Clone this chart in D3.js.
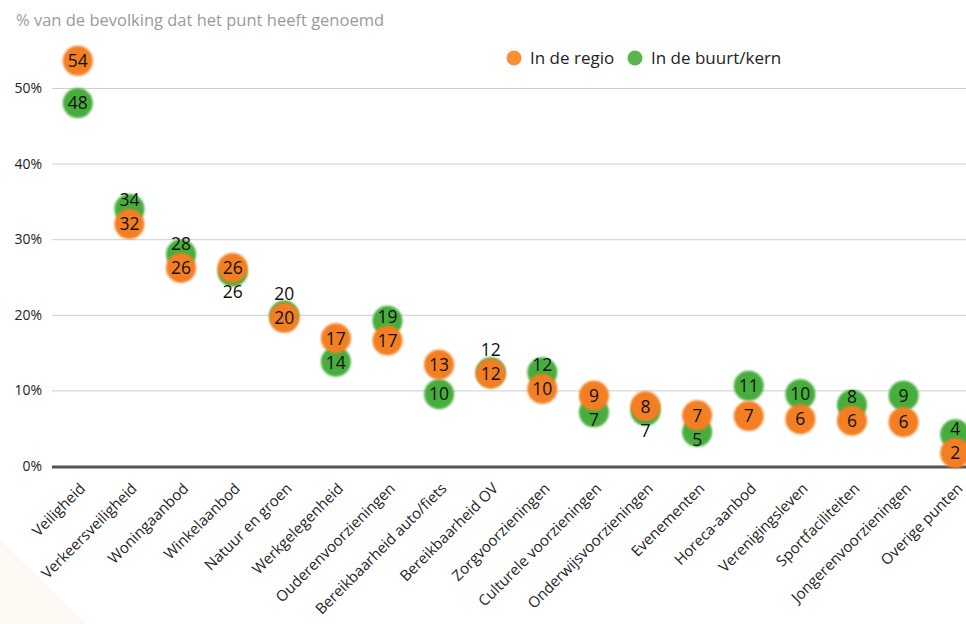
<!DOCTYPE html>
<meta charset="utf-8">
<style>
body { margin: 0; background: #fff; }
svg { display: block; font-family: "Open Sans", "Noto Sans", sans-serif; }
.grid line { stroke: #cfcfcf; stroke-width: 1px; }
.ylab { font-size: 14px; fill: #222; }
.xlab { font-size: 15px; fill: #222; }
.dlab { font-size: 17.5px; fill: #111; }
</style>
<body>
<svg width="966" height="624"></svg>
<script src="https://d3js.org/d3.v7.min.js"></script>
<script>

var categories = ["Veiligheid", "Verkeersveiligheid", "Woningaanbod", "Winkelaanbod",
  "Natuur en groen", "Werkgelegenheid", "Ouderenvoorzieningen", "Bereikbaarheid auto/fiets",
  "Bereikbaarheid OV", "Zorgvoorzieningen", "Culturele voorzieningen", "Onderwijsvoorzieningen",
  "Evenementen", "Horeca-aanbod", "Verenigingsleven", "Sportfaciliteiten",
  "Jongerenvoorzieningen", "Overige punten"];

// In de regio
var regio = [53.6, 32.0, 26.2, 26.2, 19.6, 16.9, 16.6, 13.4, 12.2, 10.2, 9.3, 7.9, 6.7, 6.6, 6.2, 6.0, 5.8, 1.7];
// In de buurt/kern
var buurt = [48.0, 34.0, 28.0, 25.7, 19.9, 13.8, 19.2, 9.5, 12.4, 12.4, 7.1, 7.3, 4.5, 10.6, 9.5, 8.1, 9.3, 4.2];

var yTicks = [0, 10, 20, 30, 40, 50];

var svg = d3.select("svg"),
    width = +svg.attr("width"),
    height = +svg.attr("height");

var orange = "#f37f22", green = "#46ad3d";

// beige corner
svg.append("path")
    .attr("d", "M0,540 L86,624 L0,624 Z")
    .attr("fill", "#fdf8f1");

var x = d3.scalePoint()
    .domain(categories)
    .range([52, 981])
    .padding(0.5);

var y = d3.scaleLinear()
    .domain([0, 50])
    .range([466, 88]);

var defs = svg.append("defs");
defs.append("filter").attr("id", "soft")
    .attr("x", "-20%").attr("y", "-20%").attr("width", "140%").attr("height", "140%")
  .append("feGaussianBlur").attr("stdDeviation", 1.1);

// title
svg.append("text")
    .attr("x", 16).attr("y", 26)
    .attr("fill", "#9a9a9a")
    .style("font-size", "16.5px")
    .text("% van de bevolking dat het punt heeft genoemd");

// gridlines
var grid = svg.append("g").attr("class", "grid");
grid.selectAll("line")
  .data(yTicks.filter(function(d) { return d > 0; }))
  .enter().append("line")
    .attr("x1", 52).attr("x2", width)
    .attr("y1", function(d) { return y(d) + 0.5; })
    .attr("y2", function(d) { return y(d) + 0.5; });

svg.selectAll(".ylab")
  .data(yTicks)
  .enter().append("text")
    .attr("class", "ylab")
    .attr("x", 42)
    .attr("y", function(d) { return y(d); })
    .attr("dy", "0.35em")
    .attr("text-anchor", "end")
    .text(function(d) { return d + "%"; });

svg.append("line")
    .attr("x1", 52).attr("x2", width)
    .attr("y1", y(0) + 1).attr("y2", y(0) + 1)
    .attr("stroke", "#555")
    .attr("stroke-width", 3);

// x labels
svg.selectAll(".xlab")
  .data(categories)
  .enter().append("text")
    .attr("class", "xlab")
    .attr("text-anchor", "end")
    .attr("transform", function(d) { return "translate(" + (x(d) + 1) + ",482) rotate(-45)"; })
    .attr("dy", "0.7em")
    .text(function(d) { return d; });

// dots
var r = 15;
svg.append("g").selectAll("circle")
  .data(buurt)
  .enter().append("circle")
    .attr("cx", function(d, i) { return x(categories[i]); })
    .attr("cy", function(d) { return y(d); })
    .attr("r", r)
    .attr("fill", green)
    .attr("filter", "url(#soft)");

svg.append("g").selectAll("circle")
  .data(regio)
  .enter().append("circle")
    .attr("cx", function(d, i) { return x(categories[i]); })
    .attr("cy", function(d) { return y(d); })
    .attr("r", r)
    .attr("fill", orange)
    .attr("filter", "url(#soft)");

// labels: green label pushed away from the orange dot when they overlap
var minGap = 24;
svg.append("g").selectAll("text")
  .data(buurt)
  .enter().append("text")
    .attr("class", "dlab")
    .attr("text-anchor", "middle")
    .attr("dy", "0.36em")
    .attr("x", function(d, i) { return x(categories[i]); })
    .attr("y", function(d, i) {
      var yg = y(d), yo = y(regio[i]);
      if (Math.abs(yg - yo) < minGap) return yg <= yo ? yo - minGap : yo + minGap;
      return yg;
    })
    .text(function(d) { return Math.round(d); });

svg.append("g").selectAll("text")
  .data(regio)
  .enter().append("text")
    .attr("class", "dlab")
    .attr("text-anchor", "middle")
    .attr("dy", "0.36em")
    .attr("x", function(d, i) { return x(categories[i]); })
    .attr("y", function(d) { return y(d); })
    .text(function(d) { return Math.round(d); });

// legend
var legend = [{name: "In de regio", color: "#fb8f33", x: 514},
              {name: "In de buurt/kern", color: "#5cb451", x: 635}];
var lg = svg.append("g").selectAll("g")
  .data(legend)
  .enter().append("g")
    .attr("transform", function(d) { return "translate(" + d.x + ",58)"; });
lg.append("circle").attr("r", 7.5).attr("fill", function(d) { return d.color; });
lg.append("text")
    .attr("x", 16).attr("dy", "0.35em")
    .style("font-size", "17px").attr("fill", "#222")
    .text(function(d) { return d.name; });

</script>
</body>
